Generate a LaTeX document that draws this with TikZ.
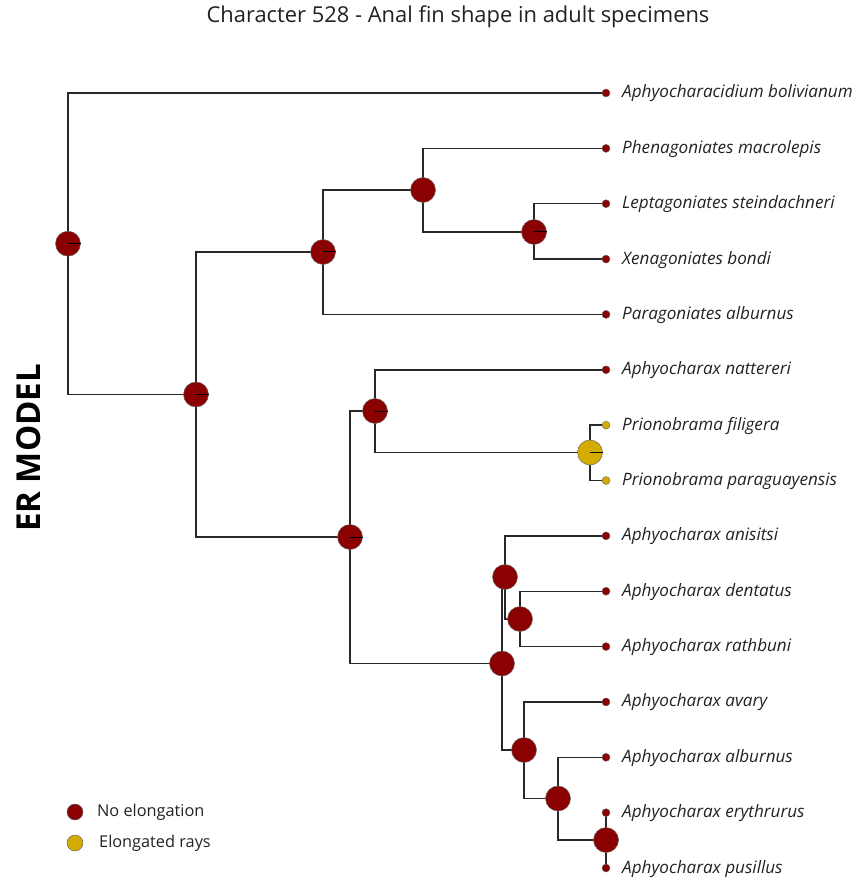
\documentclass[tikz,border=0pt]{standalone}
\usepackage{fontspec}
\setmainfont{Open Sans}
\usetikzlibrary{backgrounds}
\definecolor{noelong}{RGB}{139,0,0}
\definecolor{elong}{RGB}{212,172,0}
\definecolor{branch}{RGB}{40,40,40}
\definecolor{txt}{RGB}{34,34,34}
\tikzset{
  inner/.style={circle,draw=branch!70,line width=0.5pt,minimum size=25pt,inner sep=0pt},
  tipdot/.style={circle,draw=branch!70,line width=0.4pt,minimum size=8pt,inner sep=0pt},
  tiplabel/.style={anchor=west,inner sep=0pt,font=\fontsize{17.1}{20}\selectfont\itshape,text=txt,text height=12pt,text depth=4pt},
  edge/.style={draw=branch,line width=1.4pt},
  slice/.style={draw=black,line width=1pt},
  legdot/.style={circle,draw=branch!70,line width=0.5pt,minimum size=16pt,inner sep=0pt},
  legtext/.style={anchor=west,inner sep=0pt,font=\fontsize{16.3}{19}\selectfont,text=txt,text height=12pt,text depth=4pt}
}
\begin{document}
\begin{tikzpicture}[x=1pt,y=-1pt]
\useasboundingbox (0,0) rectangle (856,882);

% tips
\foreach \i/\c/\name in {
  1/noelong/Aphyocharacidium bolivianum,
  2/noelong/Phenagoniates macrolepis,
  3/noelong/Leptagoniates steindachneri,
  4/noelong/Xenagoniates bondi,
  5/noelong/Paragoniates alburnus,
  6/noelong/Aphyocharax nattereri,
  7/elong/Prionobrama filigera,
  8/elong/Prionobrama paraguayensis,
  9/noelong/Aphyocharax anisitsi,
  10/noelong/Aphyocharax dentatus,
  11/noelong/Aphyocharax rathbuni,
  12/noelong/Aphyocharax avary,
  13/noelong/Aphyocharax alburnus,
  14/noelong/Aphyocharax erythrurus,
  15/noelong/Aphyocharax pusillus}{
  \pgfmathsetmacro{\ty}{93+55.36*(\i-1)}
  \node[tipdot,fill=\c] (t\i) at (606,\ty) {};
  \node[tiplabel] (l\i) at (622,\ty+1) {\name};
}

% internal nodes (ancestral states)
\node[inner,fill=noelong] (n1) at (68,243.7) {};
\node[inner,fill=noelong] (n2) at (196,394.5) {};
\node[inner,fill=noelong] (n3) at (323,252) {};
\node[inner,fill=noelong] (n4) at (423,190) {};
\node[inner,fill=noelong] (n5) at (534,232) {};
\node[inner,fill=noelong] (n6) at (350,537) {};
\node[inner,fill=noelong] (n7) at (375,411) {};
\node[inner,fill=elong]   (n8) at (590,452.5) {};
\node[inner,fill=noelong] (n9) at (502,663.5) {};
\node[inner,fill=noelong] (n10) at (505,577) {};
\node[inner,fill=noelong] (n11) at (520,619) {};
\node[inner,fill=noelong] (n12) at (524,750) {};
\node[inner,fill=noelong] (n13) at (558,798.5) {};
\node[inner,fill=noelong] (n14) at (606,840) {};

% pie slice boundaries
\foreach \n in {n1,n2,n3,n5,n6,n7,n8}{
  \draw[slice] (\n.center) -- (\n.east);
}

% branches
\begin{pgfonlayer}{background}
\foreach \p/\c in {n1/t1,n1/n2,n2/n3,n2/n6,n3/n4,n3/t5,n4/t2,n4/n5,n5/t3,n5/t4,
  n6/n7,n6/n9,n7/t6,n7/n8,n8/t7,n8/t8,n9/n10,n9/n12,n10/t9,n10/n11,n11/t10,n11/t11,
  n12/t12,n12/n13,n13/t13,n13/n14,n14/t14,n14/t15}{
  \draw[edge] (\p.center) |- (\c.center);
}
\end{pgfonlayer}

% title
\node[font=\fontsize{21.9}{26}\selectfont,text=txt] (title) at (458,17) {Character 528 - Anal fin shape in adult specimens};

% model label
\node[rotate=90,font=\fontsize{33}{40}\selectfont\bfseries,text=black] (model) at (29,448) {ER MODEL};

% legend
\node[legdot,fill=noelong] (k1) at (75,812) {};
\node[legtext] (k1t) at (97,812) {No elongation};
\node[legdot,fill=elong] (k2) at (75,843) {};
\node[legtext] (k2t) at (99,843) {Elongated rays};
\end{tikzpicture}
\end{document}
